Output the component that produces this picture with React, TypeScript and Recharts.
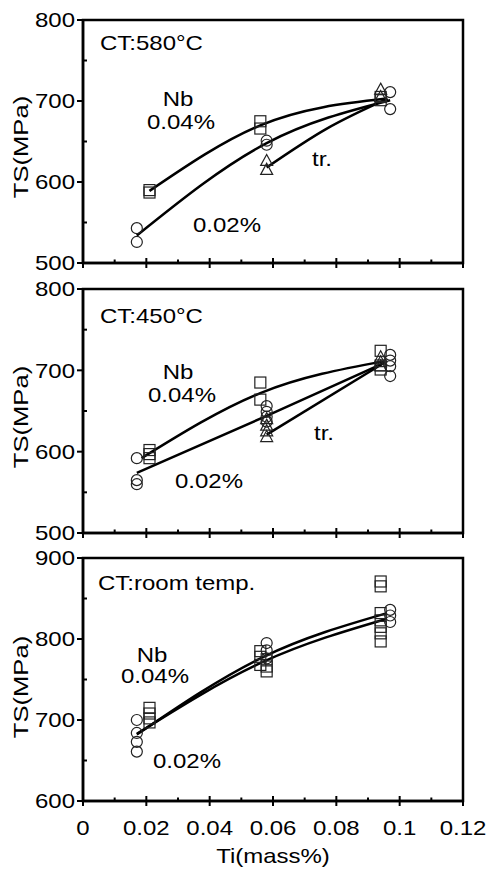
import React from 'react';
import { ComposedChart, XAxis, YAxis, Scatter, Line, ReferenceArea } from 'recharts';

type P = [number, number];

// ---- axis ticks ----
const xTicks = [0, 0.01, 0.02, 0.03, 0.04, 0.05, 0.06, 0.07, 0.08, 0.09, 0.1, 0.11, 0.12];
const xTickLabels = ['0', '0.02', '0.04', '0.06', '0.08', '0.1', '0.12'];
const yTicksA = [500, 550, 600, 650, 700, 750, 800];
const yTicksB = [600, 650, 700, 750, 800, 850, 900];

// ---- panel 1 : CT 580°C ----
const p1Squares: P[] = [[0.021, 590], [0.021, 587], [0.056, 675], [0.056, 666], [0.094, 705], [0.094, 701]];
const p1Circles: P[] = [[0.017, 543], [0.017, 526], [0.058, 651], [0.058, 646], [0.097, 711], [0.097, 690]];
const p1Triangles: P[] = [[0.058, 626], [0.058, 615], [0.094, 714], [0.094, 705]];
const p1FitNb04: P[] = [[0.021, 589], [0.056, 670], [0.0958, 703]];
const p1FitNb02: P[] = [[0.017, 534], [0.058, 648], [0.097, 701]];
const p1FitTr: P[] = [[0.058, 618], [0.077, 666], [0.0962, 703]];

// ---- panel 2 : CT 450°C ----
const p2Squares: P[] = [[0.021, 602], [0.021, 597], [0.021, 592], [0.056, 685], [0.056, 664], [0.094, 724], [0.094, 706], [0.094, 701]];
const p2Circles: P[] = [[0.017, 592], [0.017, 565], [0.017, 560], [0.058, 656], [0.058, 649], [0.058, 643], [0.058, 637], [0.097, 719], [0.097, 712], [0.097, 705], [0.097, 693]];
const p2Triangles: P[] = [[0.058, 640], [0.058, 632], [0.058, 625], [0.058, 618], [0.094, 716], [0.094, 710], [0.094, 705]];
const p2FitNb04: P[] = [[0.0185, 592], [0.056, 672], [0.095, 711]];
const p2FitNb02: P[] = [[0.017, 574], [0.058, 644], [0.095, 709]];
const p2FitTr: P[] = [[0.058, 621], [0.095, 709]];

// ---- panel 3 : CT room temp. ----
const p3Squares: P[] = [[0.021, 715], [0.021, 708], [0.021, 702], [0.021, 697], [0.056, 785], [0.056, 778], [0.056, 768], [0.058, 775], [0.058, 766], [0.058, 760], [0.094, 871], [0.094, 865], [0.094, 832], [0.094, 823], [0.094, 815], [0.094, 807], [0.094, 797]];
const p3Circles: P[] = [[0.017, 700], [0.017, 684], [0.017, 673], [0.017, 661], [0.058, 795], [0.058, 786], [0.058, 776], [0.097, 836], [0.097, 829], [0.097, 821]];
const p3Triangles: P[] = [];
const p3FitNb04: P[] = [[0.017, 682], [0.057, 778], [0.096, 832]];
const p3FitNb02: P[] = [[0.017, 683], [0.057, 772], [0.096, 825]];

const FONT = '"Liberation Sans", Arial, Helvetica, sans-serif';
const SX = 1.2;

const toPts = (a: P[]) => a.map(([x, y]) => ({ x, y }));

const SquareShape = (p: any) => (
  <rect x={p.cx - 5.5} y={p.cy - 5.5} width={11} height={11} fill="none" stroke="#222" strokeWidth={1.2} />
);
const CircleShape = (p: any) => (
  <circle cx={p.cx} cy={p.cy} r={5.5} fill="none" stroke="#222" strokeWidth={1.2} />
);
const TriShape = (p: any) => (
  <path d={`M${p.cx},${p.cy - 6.5} L${p.cx + 6},${p.cy + 4.5} L${p.cx - 6},${p.cy + 4.5} Z`} fill="none" stroke="#222" strokeWidth={1.2} />
);

const XTick = (props: any) => {
  const { x, y, index, showLabel } = props;
  const major = index % 2 === 0;
  if (!major) {
    return <line x1={x} x2={x} y1={y - 3.5} y2={y} stroke="#000" strokeWidth={2} />;
  }
  return (
    <g>
      <line x1={x} x2={x} y1={y - 5} y2={y + 5} stroke="#000" strokeWidth={2} />
      {showLabel ? (
        <text transform={`translate(${x},${y + 34}) scale(${SX},1)`} textAnchor="middle" fontSize={20} fontFamily={FONT} fill="#000">
          {xTickLabels[index / 2]}
        </text>
      ) : null}
    </g>
  );
};

const YTick = (props: any) => {
  const { x, y, index, payload } = props;
  const major = index % 2 === 0;
  if (!major) {
    return <line x1={x} x2={x + 4} y1={y} y2={y} stroke="#000" strokeWidth={2} />;
  }
  return (
    <g>
      <line x1={x - 6} x2={x} y1={y} y2={y} stroke="#000" strokeWidth={2} />
      <text transform={`translate(${x - 8},${y + 7.2}) scale(${SX},1)`} textAnchor="end" fontSize={20} fontFamily={FONT} fill="#000">
        {String(payload.value)}
      </text>
    </g>
  );
};

type PanelProps = {
  top: number;
  height: number;
  marginTop: number;
  xAxisHeight: number;
  yDomain: [number, number];
  yTicks: number[];
  squares: P[];
  circles: P[];
  triangles: P[];
  fits: P[][];
  showXLabels: boolean;
};

function Panel(pp: PanelProps) {
  return (
    <div style={{ position: 'absolute', left: 0, top: pp.top, width: 488, height: pp.height }}>
      <ComposedChart width={488} height={pp.height} margin={{ top: pp.marginTop, right: 25, bottom: 0, left: 0 }}>
        <XAxis
          dataKey="x"
          type="number"
          domain={[0, 0.12]}
          ticks={xTicks}
          interval={0}
          tickSize={0}
          tickMargin={0}
          tickLine={false}
          height={pp.xAxisHeight}
          axisLine={{ stroke: '#000', strokeWidth: 2.5 }}
          tick={(p: any) => <XTick {...p} showLabel={pp.showXLabels} />}
          allowDataOverflow
        />
        <YAxis
          dataKey="y"
          type="number"
          domain={pp.yDomain}
          ticks={pp.yTicks}
          interval={0}
          width={83}
          tickSize={0}
          tickMargin={0}
          tickLine={false}
          axisLine={{ stroke: '#000', strokeWidth: 2.5 }}
          tick={(p: any) => <YTick {...p} />}
          allowDataOverflow
        />
        <ReferenceArea x1={0} x2={0.12} y1={pp.yDomain[0]} y2={pp.yDomain[1]} fill="none" fillOpacity={0} stroke="#000" strokeWidth={2.5} />
        <Scatter data={toPts(pp.squares)} dataKey="y" shape={SquareShape} isAnimationActive={false} />
        <Scatter data={toPts(pp.circles)} dataKey="y" shape={CircleShape} isAnimationActive={false} />
        {pp.triangles.length ? (
          <Scatter data={toPts(pp.triangles)} dataKey="y" shape={TriShape} isAnimationActive={false} />
        ) : null}
        {pp.fits.map((f, i) => (
          <Line
            key={i}
            data={toPts(f)}
            dataKey="y"
            type="monotone"
            stroke="#000"
            strokeWidth={2.5}
            dot={false}
            activeDot={false}
            isAnimationActive={false}
          />
        ))}
      </ComposedChart>
    </div>
  );
}

const T = (p: { x: number; y: number; anchor?: string; children: React.ReactNode }) => (
  <text transform={`translate(${p.x},${p.y}) scale(${SX},1)`} textAnchor={p.anchor || 'middle'} fontSize={20} fontFamily={FONT} fill="#000">
    {p.children}
  </text>
);

const YTitle = (p: { y: number }) => (
  <text transform={`translate(28,${p.y}) rotate(-90) scale(1.28,1)`} textAnchor="middle" fontSize={20} fontFamily={FONT} fill="#000">
    TS(MPa)
  </text>
);

export default function App() {
  return (
    <div style={{ position: 'absolute', left: 0, top: 0, width: 488, height: 869, background: '#fff', overflow: 'hidden' }}>
      <Panel top={0} height={280} marginTop={20} xAxisHeight={17} yDomain={[500, 800]} yTicks={yTicksA}
        squares={p1Squares} circles={p1Circles} triangles={p1Triangles} fits={[p1FitNb04, p1FitNb02, p1FitTr]} showXLabels={false} />
      <Panel top={270} height={280} marginTop={19} xAxisHeight={17} yDomain={[500, 800]} yTicks={yTicksA}
        squares={p2Squares} circles={p2Circles} triangles={p2Triangles} fits={[p2FitNb04, p2FitNb02, p2FitTr]} showXLabels={false} />
      <Panel top={540} height={329} marginTop={18} xAxisHeight={68} yDomain={[600, 900]} yTicks={yTicksB}
        squares={p3Squares} circles={p3Circles} triangles={p3Triangles} fits={[p3FitNb04, p3FitNb02]} showXLabels={true} />
      <svg width={488} height={869} style={{ position: 'absolute', left: 0, top: 0, pointerEvents: 'none' }}>
        <T x={100} y={50} anchor="start">CT:580°C</T>
        <T x={178} y={106}>Nb</T>
        <T x={181} y={129}>0.04%</T>
        <T x={227} y={232}>0.02%</T>
        <T x={322} y={166}>tr.</T>

        <T x={100} y={323} anchor="start">CT:450°C</T>
        <T x={178} y={379}>Nb</T>
        <T x={182} y={402}>0.04%</T>
        <T x={209} y={488}>0.02%</T>
        <T x={324} y={440}>tr.</T>

        <T x={98} y={590} anchor="start">CT:room temp.</T>
        <T x={152} y={662}>Nb</T>
        <T x={155} y={683}>0.04%</T>
        <T x={187} y={768}>0.02%</T>

        <YTitle y={147} />
        <YTitle y={417} />
        <YTitle y={687} />
        <T x={273} y={863}>Ti(mass%)</T>
      </svg>
    </div>
  );
}
